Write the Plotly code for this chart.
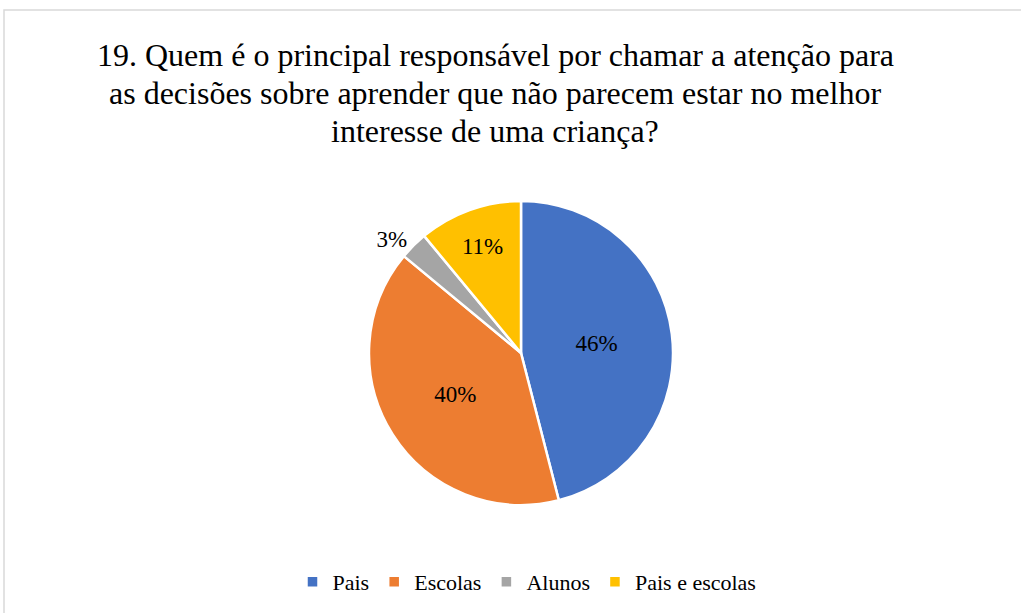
import plotly.graph_objects as go

labels = ["Pais", "Escolas", "Alunos", "Pais e escolas"]
values = [46, 40, 3, 11]
colors = ["#4472C4", "#ED7D31", "#A5A5A5", "#FFC000"]
title_lines = [
  "19. Quem é o principal responsável por chamar a atenção para",
  "as decisões sobre aprender que não parecem estar no melhor",
  "interesse de uma criança?",
]

SERIF = "Liberation Serif"
W, H = 1021, 613
cx, cy, r = 521, 353, 152

fig = go.Figure(go.Pie(
  labels=labels,
  values=values,
  sort=False,
  direction='clockwise',
  rotation=0,
  marker=dict(colors=colors, line=dict(color='white', width=2.5)),
  texttemplate='%{percent:.0%}',
  textposition=['inside', 'inside', 'outside', 'inside'],
  insidetextorientation='horizontal',
  textfont=dict(family=SERIF, size=23, color="black"),
  hoverinfo='label+percent',
  domain=dict(x=[(cx - r) / W, (cx + r) / W], y=[1 - (cy + r) / H, 1 - (cy - r) / H]),
))

fig.update_layout(
  width=W, height=H,
  margin=dict(l=0, r=0, t=0, b=0),
  paper_bgcolor='white',
  font=dict(family=SERIF, size=22, color="black"),
  showlegend=True,
  legend=dict(orientation='h', x=527 / W, xanchor='center', y=1 - 582 / H,
              yanchor='middle', font=dict(family=SERIF, size=22), traceorder='normal'),
  annotations=[dict(
    text=t, x=495 / W, y=1 - y / H, xref='paper', yref='paper',
    xanchor='center', yanchor='middle', showarrow=False,
    font=dict(family=SERIF, size=32, color="black"),
  ) for t, y in zip(title_lines, [55, 93, 131])],
  shapes=[dict(type='rect', xref='paper', yref='paper',
               x0=4 / W, x1=1.02, y0=-0.02, y1=1 - 10 / H,
               line=dict(color='#D9D9D9', width=1.5))],
)

fig.write_html("out.html", config={'displayModeBar': False},
               post_script="document.body.style.margin='0';")
